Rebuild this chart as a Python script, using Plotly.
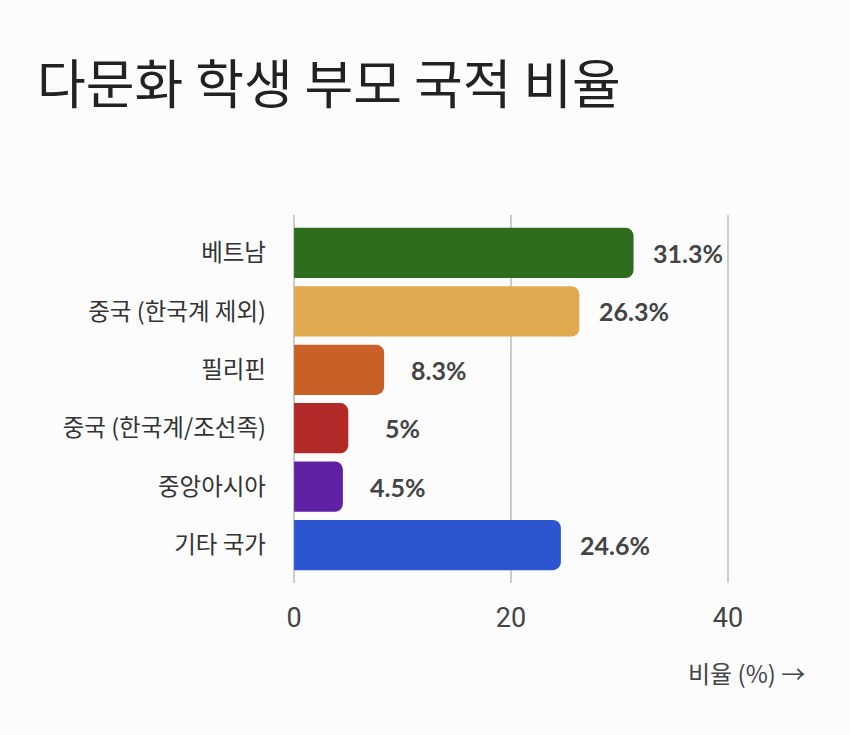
import plotly.graph_objects as go

# 다문화 학생 부모 국적 비율 (%)
countries = ["베트남", "중국 (한국계 제외)", "필리핀", "중국 (한국계/조선족)", "중앙아시아", "기타 국가"]
shares = [31.3, 26.3, 8.3, 5, 4.5, 24.6]
labels = ["31.3%", "26.3%", "8.3%", "5%", "4.5%", "24.6%"]
colors = ["#2e6d1e", "#e1aa50", "#c86027", "#b22a27", "#6121a5", "#2b56cf"]

KR = "Noto Sans CJK KR"

fig = go.Figure()

fig.add_trace(go.Bar(
    x=shares, y=countries, orientation="h",
    marker=dict(color=colors, cornerradius=8, line=dict(width=0)),
    width=0.86, hoverinfo="x+y", showlegend=False
))

# value labels, centred a fixed distance right of each bar
for c, v, t in zip(countries, shares, labels):
    fig.add_annotation(
        x=v + 5, y=c, text=t, showarrow=False, xanchor="center",
        font=dict(family="Lato", size=25, color="#444444", weight="bold")
    )

# axis title under the x axis, with arrow
fig.add_annotation(
    xref="paper", yref="paper", x=1.178, y=-0.242,
    text="비율 (%) →", showarrow=False, xanchor="right", yanchor="middle",
    font=dict(family=KR, size=24, color="#444444")
)

fig.update_layout(
    width=850, height=735,
    margin=dict(l=293, r=121, t=215, b=152),
    paper_bgcolor="#fcfcfc", plot_bgcolor="#fcfcfc",
    title=dict(
        text="다문화 학생 부모 국적 비율",
        x=37 / 850, xanchor="left", xref="container",
        y=1 - 85 / 735, yanchor="middle", yref="container",
        font=dict(family=KR, size=53, color="#222222")
    ),
    xaxis=dict(
        range=[-0.1, 40.1], tickvals=[0, 20, 40],
        showgrid=True, gridcolor="#cccccc", gridwidth=2,
        zeroline=False, showline=False,
        tickfont=dict(family="Roboto", size=27, color="#444444"),
        ticklabelstandoff=16
    ),
    yaxis=dict(
        range=[5.65, -0.65], showgrid=False, zeroline=False, showline=False,
        tickfont=dict(family=KR, size=23.5, color="#333333"),
        ticklabelstandoff=26
    ),
)

fig.write_html("out.html", config={"displayModeBar": False},
               post_script="document.body.style.margin='0';")
